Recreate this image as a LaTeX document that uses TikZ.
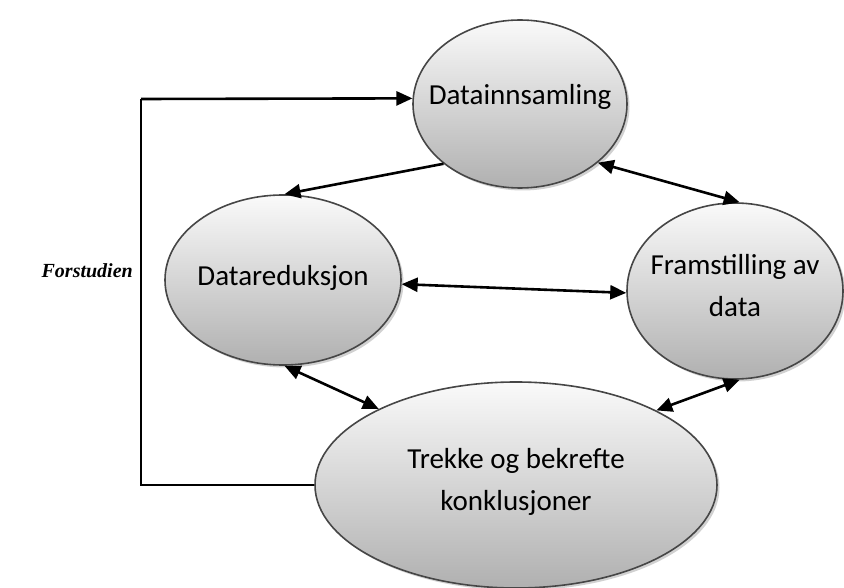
\documentclass[tikz,border=0pt]{standalone}
\usepackage{fontspec}
\setmainfont{Carlito}
\newfontfamily\tnr{Liberation Serif}
\usetikzlibrary{shapes.geometric,arrows.meta,shadows}
\begin{document}
\begin{tikzpicture}[x=1pt,y=-1pt,
  bub/.style={ellipse, draw=gray!55!black, line width=1.6pt,
    top color=gray!4, bottom color=gray!62,
    drop shadow={shadow xshift=2.5pt, shadow yshift=-2.5pt, fill=gray!45, opacity=0.8},
    inner sep=0pt, align=center,
    font=\fontsize{29}{42}\selectfont},
  txt/.style={align=center, inner sep=0pt, font=\fontsize{29}{42}\selectfont},
  tip/.style={Triangle[length=16pt,width=14pt]},
  arr/.style={line width=2.6pt, -{Triangle[length=16pt,width=14pt]}},
  darr/.style={line width=2.6pt, {Triangle[length=16pt,width=14pt]}-{Triangle[length=16pt,width=14pt]}},
  ln/.style={line width=2.6pt}]
\useasboundingbox (0,0) rectangle (844,588);
\node[bub, minimum width=214pt, minimum height=168pt] (dai) at (520,104) {};
\node[txt] (daitext) at (520,97) {Datainnsamling};
\node[bub, minimum width=236pt, minimum height=170pt] (dar) at (283,280) {};
\node[txt] (dartext) at (283,278) {Datareduksjon};
\node[bub, minimum width=216pt, minimum height=176pt] (fra) at (735,291) {};
\node[txt] (fratext) at (735,286) {Framstilling av\\data};
\node[bub, minimum width=402pt, minimum height=206pt] (trk) at (516,485) {};
\node[txt] (trktext) at (516,482) {Trekke og bekrefte\\konklusjoner};
\node[font=\tnr\bfseries\itshape\fontsize{20}{24}\selectfont, anchor=east, inner sep=0pt] (fs) at (133,271) {Forstudien};
\coordinate (c1) at (141,485);
\coordinate (c2) at (141,99);
\draw[ln] (trk.west) -- (c1) -- (c2);
\draw[arr] (c2) -- (dai.177);
\draw[arr] (dai.218) -- (dar.89);
\draw[darr] (dai.323) -- (fra.87);
\draw[darr] (dar.358) -- (fra.181);
\draw[darr] (dar.271) -- (trk.151);
\draw[darr] (trk.28) -- (fra.273);
\end{tikzpicture}
\end{document}
